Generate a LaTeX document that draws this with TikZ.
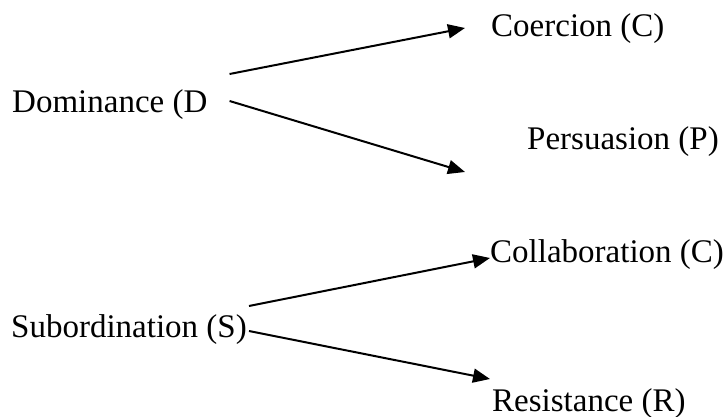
\documentclass[tikz,border=0pt]{standalone}
\usepackage{fontspec}
\setmainfont{Liberation Serif}
\usetikzlibrary{arrows.meta,calc}

\begin{document}
\begin{tikzpicture}[x=1pt,y=-1pt,
    lbl/.style={anchor=base west, inner sep=0pt, font=\fontsize{33}{40}\selectfont},
    arr/.style={line width=2pt, -{Triangle[length=17pt,width=14pt]}}]
    \useasboundingbox (0,0) rectangle (726,417);
    % Dominance branch
    \node[lbl] (dom) at (12,113) {Dominance (D};
    \node[lbl] (coe) at (491,37) {Coercion (C)};
    \node[lbl] (per) at (527,150) {Persuasion (P)};
    \draw[arr] ($(dom.base east)+(22,-39)$) -- ($(coe.base west)+(-26,-9)$);
    \draw[arr] ($(dom.base east)+(22,-12)$) -- ($(per.base west)+(-62,22)$);
    % Subordination branch
    \node[lbl] (sub) at (11,337) {Subordination (S)};
    \node[lbl] (col) at (490,262) {Collaboration (C)};
    \node[lbl] (res) at (492,411) {Resistance (R)};
    \draw[arr] ($(sub.base east)+(2,-31)$) -- ($(col.base west)+(0,-4)$);
    \draw[arr] ($(sub.base east)+(2,-6)$) -- ($(res.base west)+(-2,-32)$);
\end{tikzpicture}
\end{document}
